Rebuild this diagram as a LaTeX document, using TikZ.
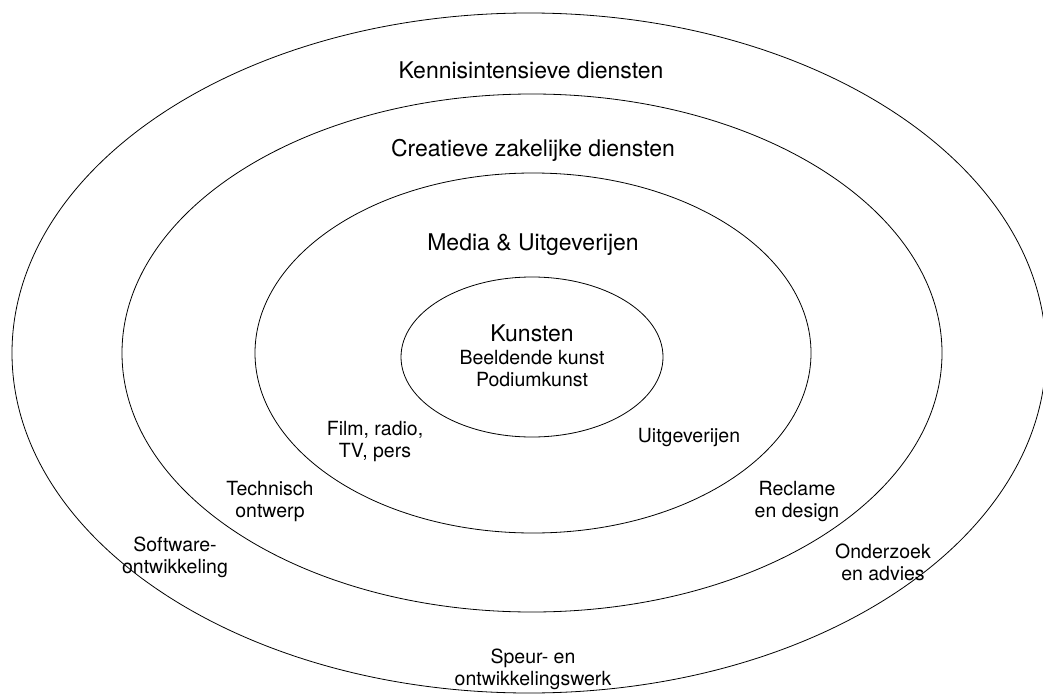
\documentclass[tikz,border=0pt]{standalone}
\usepackage{fontspec}
\setmainfont{TeX Gyre Heros}
\begin{document}
\begin{tikzpicture}[x=1pt,y=-1pt,
  ring/.style={draw=black,line width=0.8pt},
  big/.style={font=\fontsize{23}{26}\selectfont,inner sep=0pt},
  small/.style={font=\fontsize{19.5}{22}\selectfont,align=center,inner sep=0pt}]
\useasboundingbox (0,0) rectangle (1043,695);
\begin{scope}
\clip (0,0) rectangle (1043,695);
\draw[ring] (529,353) ellipse [x radius=517,y radius=340];
\draw[ring] (532,353) ellipse [x radius=410,y radius=259];
\draw[ring] (533,353) ellipse [x radius=278,y radius=180];
\draw[ring] (532,357) ellipse [x radius=131,y radius=80];
\end{scope}
\node[big] (k1) at (531,70) {Kennisintensieve diensten};
\node[big] (k2) at (533,150) {Creatieve zakelijke diensten};
\node[big] (k3) at (533,245) {Media \& Uitgeverijen};
\node[big] (k4) at (532,333) {Kunsten};
\node[small] (a1) at (532,369) {Beeldende kunst\\Podiumkunst};
\node[small] (b1) at (375,442) {Film, radio,\\TV, pers};
\node[small] (b2) at (689,438) {Uitgeverijen};
\node[small] (c1) at (270,502) {Technisch\\ontwerp};
\node[small] (c2) at (797,502) {Reclame\\en design};
\node[small] (d1) at (175,557) {Software-\\ontwikkeling};
\node[small] (d2) at (883,562) {Onderzoek\\en advies};
\node[small] (e1) at (533,669) {Speur- en\\ontwikkelingswerk};
\end{tikzpicture}
\end{document}
